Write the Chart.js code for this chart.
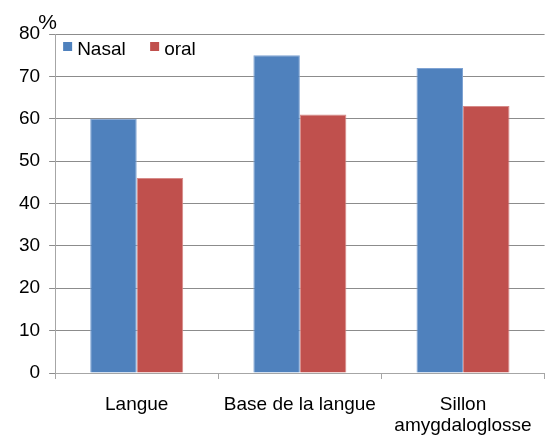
<!DOCTYPE html>
<html>
<head>
<meta charset="utf-8">
<script src="https://cdn.jsdelivr.net/npm/chart.js@4"></script>
<style>
  html, body { margin: 0; padding: 0; background: #fff; }
  #wrap { width: 547px; height: 437px; }
</style>
</head>
<body>
<div id="wrap"><canvas id="chart" width="547" height="437"></canvas></div>
<script>
const categories = ["Langue", "Base de la langue", ["Sillon", "amygdaloglosse"]];
const nasal = [60, 75, 72];
const oral = [46, 61, 63];
const yTicks = [0, 10, 20, 30, 40, 50, 60, 70, 80];

const FONT = "'Liberation Sans', Arial, sans-serif";

// "%" unit above the y axis, and a one-row legend inside the plot
const overlay = {
  id: "overlay",
  afterDraw(chart) {
    const { ctx, chartArea } = chart;
    ctx.save();
    ctx.fillStyle = "#000";
    ctx.textBaseline = "alphabetic";
    ctx.textAlign = "left";
    ctx.font = "21px " + FONT;
    ctx.fillText("%", chartArea.left - 17, chartArea.top - 5);

    ctx.font = "19px " + FONT;
    const slots = [chartArea.left + 8, chartArea.left + 95];
    chart.data.datasets.forEach((ds, i) => {
      const x = slots[i];
      const y = chartArea.top + 8;
      ctx.fillStyle = ds.backgroundColor;
      ctx.fillRect(x, y, 9, 9);
      ctx.fillStyle = "#000";
      ctx.fillText(ds.label, x + 14, y + 13);
    });
    ctx.restore();
  }
};

new Chart(document.getElementById("chart"), {
  type: "bar",
  data: {
    labels: categories,
    datasets: [
      { label: "Nasal", data: nasal, backgroundColor: "#4F81BD", borderColor: "#7FA3D3", borderWidth: 1 },
      { label: "oral", data: oral, backgroundColor: "#C0504D", borderColor: "#D68A88", borderWidth: 1 }
    ]
  },
  options: {
    responsive: false,
    animation: false,
    layout: { padding: { top: 34, right: 2, left: 10, bottom: 0 } },
    datasets: { bar: { categoryPercentage: 0.57, barPercentage: 1 } },
    plugins: {
      legend: { display: false },
      tooltip: { enabled: false }
    },
    scales: {
      x: {
        afterFit(scale) { scale.height = 64; },
        grid: { offset: true, drawOnChartArea: false, color: "#A6A6A6", tickLength: 6 },
        border: { color: "#A6A6A6" },
        ticks: { font: { family: FONT, size: 19, lineHeight: 1.1 }, color: "#000", padding: 15, maxRotation: 0 }
      },
      y: {
        min: 0,
        max: 80,
        afterBuildTicks(axis) { axis.ticks = yTicks.map(v => ({ value: v })); },
        grid: { color: "#8C8C8C", tickLength: 6 },
        border: { color: "#A6A6A6" },
        ticks: { font: { family: FONT, size: 19 }, color: "#000", padding: 9 }
      }
    }
  },
  plugins: [overlay]
});
</script>
</body>
</html>
